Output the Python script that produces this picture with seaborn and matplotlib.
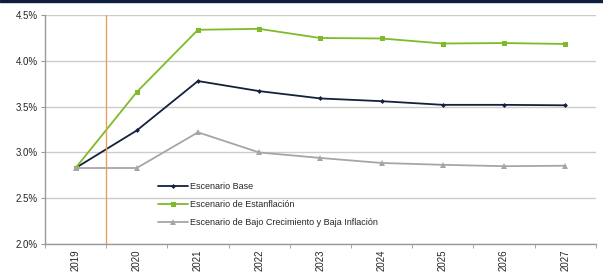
import pandas as pd
import matplotlib.pyplot as plt
import seaborn as sns
import numpy as np
from matplotlib.patches import Rectangle
from matplotlib.ticker import FuncFormatter, MultipleLocator

years = ['2019', '2020', '2021', '2022', '2023', '2024', '2025', '2026', '2027']
base = [2.83, 3.24, 3.78, 3.67, 3.59, 3.56, 3.52, 3.52, 3.515]
estanflacion = [2.83, 3.66, 4.34, 4.35, 4.25, 4.245, 4.19, 4.195, 4.185]
bajo = [2.83, 2.83, 3.22, 3.0, 2.94, 2.885, 2.865, 2.85, 2.855]
names = ['Escenario Base', 'Escenario de Estanflación',
         'Escenario de Bajo Crecimiento y Baja Inflación']

df = pd.DataFrame({
    'pos': list(range(len(years))) * 3,
    'valor': base + estanflacion + bajo,
    'serie': [names[0]] * 9 + [names[1]] * 9 + [names[2]] * 9,
})

sns.set_style('white')
plt.rcParams['font.family'] = ['Liberation Sans', 'DejaVu Sans']

fig = plt.figure(figsize=(6.03, 2.75), dpi=100)
ax = fig.add_axes([0.0746, 0.1127, 0.9134, 0.8323])

colors = ['#14213d', '#7fba2a', '#a6a6a6']
markers = ['D', 's', '^']
sizes = [2.5, 3.6, 4]
for name, c, m, s in zip(names, colors, markers, sizes):
    sns.lineplot(data=df[df['serie'] == name], x='pos', y='valor', ax=ax,
                 color=c, marker=m, markersize=s, markeredgewidth=0,
                 linewidth=1.3, label=name)

ax.axvline(0.5, color='#e8a05a', linewidth=1)

ax.set_xlim(-0.5, len(years) - 0.5)
ax.set_ylim(2.0, 4.5)
ax.yaxis.set_major_locator(MultipleLocator(0.5))
ax.yaxis.set_major_formatter(FuncFormatter(lambda v, p: f'{v:.1f}%'))
ax.grid(axis='y', color='#cccccc', linewidth=1)
ax.set_axisbelow(True)

ax.set_xticks(range(len(years)))
ax.set_xticklabels(years, rotation=90, fontsize=7)
ax.set_xticks(np.arange(-0.5, len(years)), minor=True)
ax.tick_params(axis='x', which='major', length=0, pad=4)
ax.tick_params(axis='x', which='minor', length=3, color='#999999', direction='out', bottom=True)
ax.tick_params(axis='y', labelsize=7, length=3, color='#999999', left=True, pad=2)
ax.set_xlabel('')
ax.set_ylabel('')

for sp in ['top', 'right']:
    ax.spines[sp].set_visible(False)
for sp in ['left', 'bottom']:
    ax.spines[sp].set_color('#999999')
    ax.spines[sp].set_linewidth(1)

leg = ax.legend(loc='upper left', bbox_to_anchor=(0.19, 0.305), frameon=False,
                fontsize=6.5, handlelength=3.3, handletextpad=0.3, labelspacing=1.0)

fig.patches.append(Rectangle((0, 0.993), 1, 0.007, transform=fig.transFigure,
                             color='#0d1f3c', zorder=10))

fig.savefig('out.png', dpi=100)
